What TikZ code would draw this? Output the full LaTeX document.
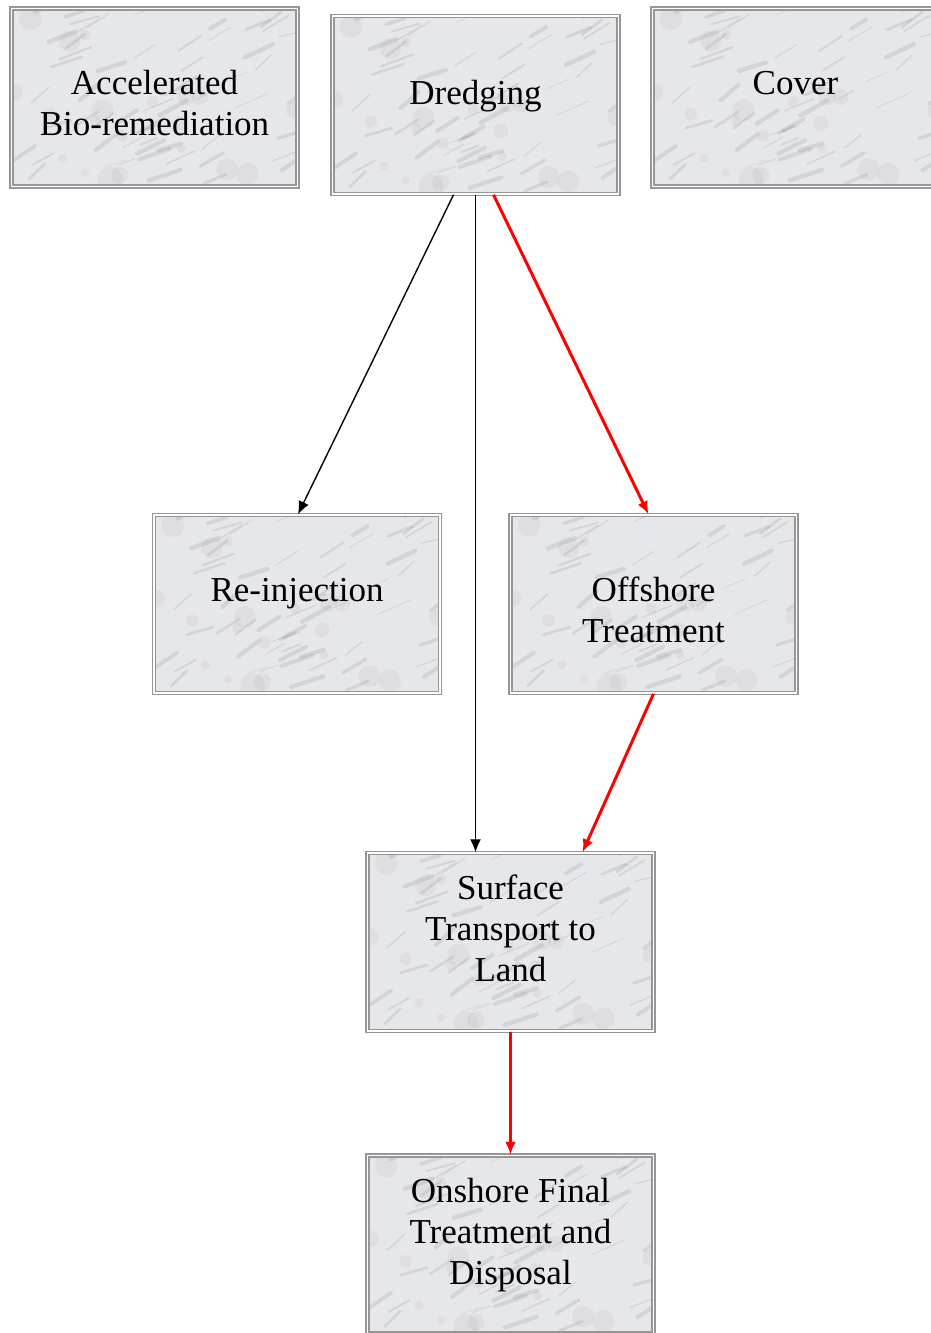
\documentclass[tikz,border=0pt]{standalone}
\usepackage{fontspec}
\setmainfont{Liberation Serif}
\usetikzlibrary{arrows.meta}

\definecolor{marble}{RGB}{230,231,235}
\definecolor{frame}{RGB}{150,150,150}

\tikzset{
  procbox/.style={draw=frame,double=white,double distance=1.5pt,line width=1.5pt,
    fill=marble,minimum width=286pt,minimum height=178pt,inner sep=0pt,
    path picture={\pgfmathsetseed{7}
      \foreach \i in {1,...,70} {
        \pgfmathsetmacro\mx{rnd*300}\pgfmathsetmacro\my{rnd*190}\pgfmathsetmacro\mw{0.5+rnd*4}
        \draw[gray,opacity=.18,line width=\mw pt,line cap=round]
          (path picture bounding box.south west) ++(\mx pt,\my pt) -- ++(14pt+rnd*20pt,6pt+rnd*10pt);}
      \foreach \i in {1,...,20} {
        \pgfmathsetmacro\mx{rnd*300}\pgfmathsetmacro\my{rnd*190}
        \fill[gray,opacity=.08] (path picture bounding box.south west) ++(\mx pt,\my pt) circle (4pt+rnd*9pt);}
    }},
  boxtext/.style={align=center,inner sep=0pt,font=\fontsize{35}{41}\selectfont},
  flow/.style={-{Latex[length=13pt,width=11pt]},line width=1.4pt},
  redflow/.style={flow,red,line width=3pt}
}

\begin{document}
\begin{tikzpicture}[x=1pt,y=-1pt]
	\useasboundingbox (0,0) rectangle (931,1333);

	\node[procbox,label={[boxtext,yshift=-6pt]center:Accelerated\\Bio-remediation}] (accel) at (154.5,97.5) {};
	\node[procbox,label={[boxtext,yshift=9pt]center:Dredging}] (dredge) at (475.5,105) {};
	\node[procbox,label={[boxtext,yshift=14pt]center:Cover}] (cover) at (795.5,97.5) {};
	\node[procbox,label={[boxtext,yshift=10pt]center:Re-injection}] (reinj) at (297,604) {};
	\node[procbox,label={[boxtext,yshift=-6pt]center:Offshore\\Treatment}] (offshore) at (653.5,604) {};
	\node[procbox,label={[boxtext,yshift=14pt]center:Surface\\Transport to\\Land}] (surface) at (510.5,942) {};
	\node[procbox,label={[boxtext,yshift=9pt]center:Onshore Final\\Treatment and\\Disposal}] (onshore) at (510.5,1244.5) {};

	\draw[flow] ([xshift=-22pt]dredge.south) -- ([xshift=1pt]reinj.north);
	\draw[flow] (dredge.south) -- (dredge.south |- surface.north);
	\draw[redflow] ([xshift=18pt]dredge.south) -- ([xshift=-5pt]offshore.north);
	\draw[redflow] (offshore.south) -- ([xshift=72pt]surface.north);
	\draw[redflow] (surface.south) -- (onshore.north);
\end{tikzpicture}
\end{document}
